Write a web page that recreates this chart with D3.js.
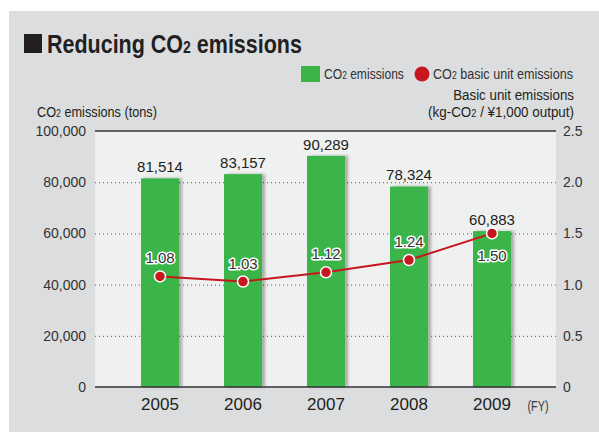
<!DOCTYPE html>
<html><head><meta charset="utf-8">
<script src="https://cdn.jsdelivr.net/npm/d3@7"></script>
<style>
body{margin:0;background:#fff;}
text{font-family:"Liberation Sans",Arial,sans-serif;}
</style></head>
<body><svg id="c" width="599" height="432"></svg>
<script>
const years = ["2005","2006","2007","2008","2009"];
const emissions = [81514, 83157, 90289, 78324, 60883];
const basicUnit = [1.08, 1.03, 1.12, 1.24, 1.50];
const leftTicks = [0, 20000, 40000, 60000, 80000, 100000];
const rightTicks = [0, 0.5, 1.0, 1.5, 2.0, 2.5];

const svg = d3.select("#c");
const W = 599, H = 432;
const plot = {l: 95, r: 556, t: 131, b: 387};

// squeeze a text horizontally to a target width, keeping its anchor point
function fit(sel, target){
  const node = sel.node();
  const w = node.getComputedTextLength();
  const xx = +sel.attr("x"), yy = +sel.attr("y");
  const s = target / w;
  sel.attr("x",0).attr("y",0).attr("transform",`translate(${xx},${yy}) scale(${s},1)`);
}

const defs = svg.append("defs");
const f = defs.append("filter").attr("id","sh").attr("x","-30%").attr("y","-10%").attr("width","160%").attr("height","120%");
f.append("feDropShadow").attr("dx",3).attr("dy",0).attr("stdDeviation",1.8).attr("flood-color","#000").attr("flood-opacity",0.3);

svg.append("rect").attr("x",9).attr("y",11).attr("width",W-9).attr("height",H-11).attr("fill","#dcdddf");
svg.append("rect").attr("x",plot.l).attr("y",plot.t).attr("width",plot.r-plot.l).attr("height",plot.b-plot.t).attr("fill","#eff0f0");

const x = d3.scaleBand().domain(years).range([118.5, 533.5]).paddingInner(0.542).paddingOuter(0.271);
const yL = d3.scaleLinear().domain([0,100000]).range([plot.b, plot.t]);
const yR = d3.scaleLinear().domain([0,2.5]).range([plot.b, plot.t]);

// gridlines
svg.append("g").selectAll("line").data(leftTicks.filter(d=>d>0&&d<100000)).join("line")
  .attr("x1",plot.l).attr("x2",plot.r).attr("y1",d=>yL(d)+0.5).attr("y2",d=>yL(d)+0.5)
  .attr("stroke","#555").attr("stroke-width",1).attr("stroke-dasharray","1,3");
svg.append("line").attr("x1",plot.l).attr("x2",plot.r).attr("y1",plot.t).attr("y2",plot.t).attr("stroke","#333").attr("stroke-width",1.5);

// left axis
const axL = svg.append("g").attr("transform",`translate(${plot.l},0)`)
  .call(d3.axisLeft(yL).tickValues(leftTicks).tickSize(0).tickPadding(9).tickFormat(d3.format(",")));
axL.select(".domain").remove();
axL.selectAll("text").attr("font-size",14).attr("fill","#333");

// right axis
const axR = svg.append("g").attr("transform",`translate(${plot.r},0)`)
  .call(d3.axisRight(yR).tickValues(rightTicks).tickSize(0).tickPadding(7).tickFormat(d=>d===0?"0":d3.format(".1f")(d)));
axR.select(".domain").remove();
axR.selectAll("text").attr("font-size",14).attr("fill","#333");

// bars
svg.append("g").selectAll("rect").data(years).join("rect")
  .attr("x",d=>x(d)).attr("width",x.bandwidth())
  .attr("y",(d,i)=>yL(emissions[i])).attr("height",(d,i)=>plot.b-yL(emissions[i]))
  .attr("fill","#3bb54a").attr("filter","url(#sh)");

// bottom axis line
svg.append("line").attr("x1",plot.l).attr("x2",plot.r).attr("y1",plot.b).attr("y2",plot.b).attr("stroke","#333").attr("stroke-width",1.5);

// x axis labels
const axB = svg.append("g").attr("transform",`translate(0,${plot.b})`)
  .call(d3.axisBottom(x).tickSize(0).tickPadding(11));
axB.select(".domain").remove();
axB.selectAll("text").attr("font-size",17).attr("fill","#231f20");
fit(svg.append("text").attr("x",538).attr("y",411).attr("text-anchor","middle").attr("font-size",14).attr("fill","#333").text("(FY)"), 21);

// bar value labels
svg.append("g").selectAll("text").data(years).join("text")
  .attr("x",d=>x(d)+x.bandwidth()/2).attr("y",(d,i)=>yL(emissions[i])-6)
  .attr("text-anchor","middle").attr("font-size",15).attr("fill","#231f20")
  .text((d,i)=>d3.format(",")(emissions[i]));

// line
const cx = d=>x(d)+x.bandwidth()/2;
svg.append("path").datum(years).attr("fill","none").attr("stroke","#c8161e").attr("stroke-width",2)
  .attr("d",d3.line().x(cx).y((d,i)=>yR(basicUnit[i])));
svg.append("g").selectAll("circle").data(years).join("circle")
  .attr("cx",cx).attr("cy",(d,i)=>yR(basicUnit[i])).attr("r",5.5)
  .attr("fill","#c8161e").attr("stroke","#fff").attr("stroke-width",1.5);
svg.append("g").selectAll("text").data(years).join("text")
  .attr("x",cx).attr("y",(d,i)=> i===4 ? yR(basicUnit[i])+28 : yR(basicUnit[i])-13)
  .attr("text-anchor","middle").attr("font-size",15).attr("fill","#333")
  .attr("stroke","#fff").attr("stroke-width",3).attr("paint-order","stroke").attr("stroke-linejoin","round")
  .text((d,i)=>d3.format(".2f")(basicUnit[i]));

// title
svg.append("rect").attr("x",24).attr("y",34).attr("width",18).attr("height",19).attr("fill","#231f20");
const t = svg.append("text").attr("x",47).attr("y",53).attr("font-size",26).attr("font-weight","bold").attr("fill","#231f20");
t.append("tspan").text("Reducing CO");
t.append("tspan").attr("font-size",17).text("2");
t.append("tspan").text(" emissions");
fit(t, 255);

// legend
svg.append("rect").attr("x",301).attr("y",66).attr("width",19).attr("height",16).attr("fill","#3bb54a");
const l1 = svg.append("text").attr("x",324).attr("y",79).attr("font-size",14.5).attr("fill","#333");
l1.append("tspan").text("CO"); l1.append("tspan").attr("font-size",10).text("2"); l1.append("tspan").text(" emissions");
fit(l1, 80);
svg.append("circle").attr("cx",422).attr("cy",74).attr("r",7.5).attr("fill","#c8161e");
const l2 = svg.append("text").attr("x",433).attr("y",79).attr("font-size",14.5).attr("fill","#333");
l2.append("tspan").text("CO"); l2.append("tspan").attr("font-size",10).text("2"); l2.append("tspan").text(" basic unit emissions");
fit(l2, 140);

// axis titles
const at = svg.append("text").attr("x",37).attr("y",117).attr("font-size",14.5).attr("fill","#231f20");
at.append("tspan").text("CO"); at.append("tspan").attr("font-size",10).text("2"); at.append("tspan").text(" emissions (tons)");
fit(at, 120);
fit(svg.append("text").attr("x",574).attr("y",100).attr("text-anchor","end").attr("font-size",14.5).attr("fill","#231f20").text("Basic unit emissions"), 121);
const rt = svg.append("text").attr("x",574).attr("y",117).attr("text-anchor","end").attr("font-size",14.5).attr("fill","#231f20");
rt.append("tspan").text("(kg-CO"); rt.append("tspan").attr("font-size",10).text("2"); rt.append("tspan").text(" / ¥1,000 output)");
fit(rt, 146);
</script></body></html>
